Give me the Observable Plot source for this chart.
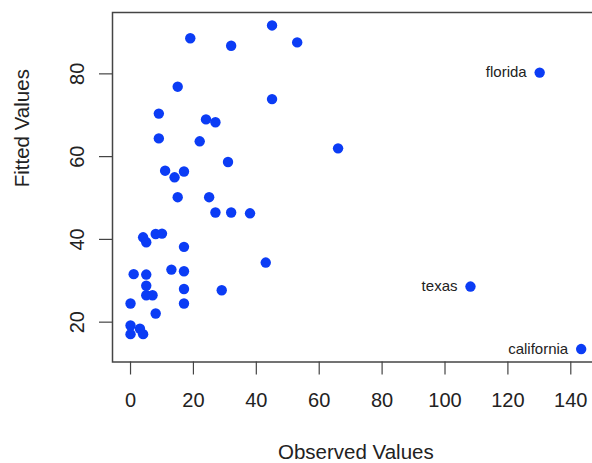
<!DOCTYPE html>
<html>
<head>
<meta charset="utf-8">
<script src="https://cdn.jsdelivr.net/npm/d3@7"></script>
<script src="https://cdn.jsdelivr.net/npm/@observablehq/plot@0.6"></script>
<style>
  html, body { margin: 0; padding: 0; background: #fff; overflow: hidden; }
</style>
</head>
<body>
<div id="chart"></div>
<script>
// Observed vs fitted values (unlabeled points)
const observed = [19, 32, 45, 53, 15, 45, 9, 24, 27, 9, 22, 66, 31, 11, 14, 17, 15, 25,
  27, 32, 38, 4, 5, 8, 10, 17, 43, 1, 5, 13, 17, 5, 17, 29, 5, 7, 0, 17, 8, 0, 3, 0, 4];
const fitted = [88.6, 86.8, 91.7, 87.6, 76.9, 73.9, 70.4, 69.0, 68.3, 64.4, 63.7, 62.0, 58.7, 56.6, 55.0, 56.4, 50.2, 50.2,
  46.5, 46.5, 46.3, 40.5, 39.3, 41.3, 41.4, 38.2, 34.4, 31.6, 31.5, 32.7, 32.3, 28.8, 28.0, 27.7, 26.5, 26.5, 24.5, 24.5, 22.1, 19.2, 18.4, 17.1, 17.1];

// Labeled outliers
const labelNames = ["florida", "texas", "california"];
const labelObserved = [130.1, 108.1, 143.3];
const labelFitted = [80.3, 28.6, 13.5];

// Axis ticks and titles
const xTicks = [0, 20, 40, 60, 80, 100, 120, 140];
const yTicks = [20, 40, 60, 80];
const xTitle = "Observed Values";
const yTitle = "Fitted Values";

const points = observed.map((o, i) => ({observed: o, fitted: fitted[i]}));
const labeled = labelNames.map((n, i) => ({name: n, observed: labelObserved[i], fitted: labelFitted[i]}));
const all = points.concat(labeled);

// R-style 4% axis extension
const xExt = d3.extent(all, d => d.observed);
const yExt = d3.extent(all, d => d.fitted);
const xPad = (xExt[1] - xExt[0]) * 0.04;
const yPad = (yExt[1] - yExt[0]) * 0.04;

const blue = "#0b3cf5";
const ink = "#222";

const chart = Plot.plot({
  width: 592,
  height: 463,
  marginLeft: 112,
  marginRight: -6.7,
  marginTop: 12,
  marginBottom: 101.5,
  style: {fontFamily: "'Liberation Sans', Arial, Helvetica, sans-serif", fontSize: "20px", color: ink, background: "#fff", overflow: "hidden"},
  x: {domain: [xExt[0] - xPad, xExt[1] + xPad]},
  y: {domain: [yExt[0] - yPad, yExt[1] + yPad]},
  marks: [
    Plot.frame({stroke: "#444", strokeWidth: 1.5}),
    Plot.axisX(xTicks, {tickSize: 13, tickPadding: 18, label: null, stroke: "#444", strokeWidth: 1.2, fill: ink}),
    Plot.axisY(yTicks, {tickSize: 13, tickFormat: () => "", label: null, stroke: "#444", strokeWidth: 1.2}),
    Plot.text(yTicks, {y: d => d, text: d => String(d), frameAnchor: "left", dx: -34.5, rotate: -90,
      textAnchor: "middle", lineAnchor: "middle", fill: ink}),
    Plot.text([xTitle], {text: d => d, frameAnchor: "bottom", dy: 90.5, lineAnchor: "middle", fill: ink, fontSize: 20.5}),
    Plot.text([yTitle], {text: d => d, frameAnchor: "left", dx: -90, rotate: -90, lineAnchor: "middle", fill: ink, fontSize: 20.5}),
    Plot.dot(all, {x: "observed", y: "fitted", r: 5.2, fill: blue, stroke: "none"}),
    Plot.text(labeled, {x: "observed", y: "fitted", text: "name", dx: -13, textAnchor: "end",
      lineAnchor: "middle", fontSize: 15, fill: ink})
  ]
});
document.getElementById("chart").appendChild(chart);
</script>
</body>
</html>
